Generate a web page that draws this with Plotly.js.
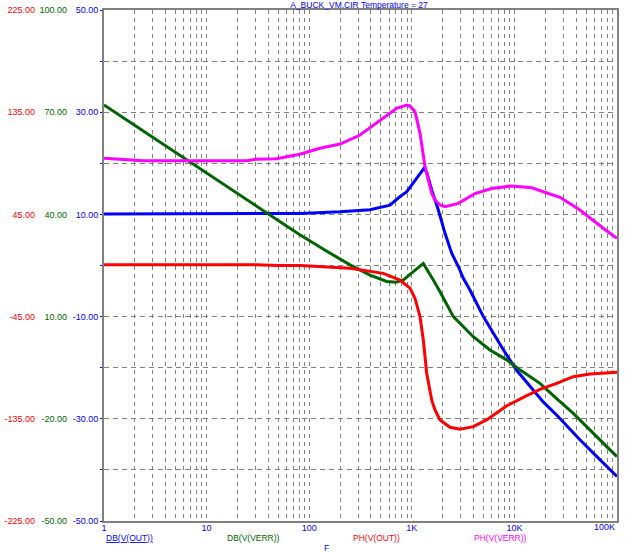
<!DOCTYPE html>
<html>
<head>
<meta charset="utf-8">
<script src="https://cdn.plot.ly/plotly-3.0.1.min.js"></script>
<style>html,body{margin:0;padding:0;background:#fff;}#chart{width:625px;height:556px;}</style>
</head>
<body>
<div id="chart"></div>
<script>
// ---- data ----
const titleText = 'A_BUCK_VM.CIR Temperature = 27';

const fOut = [1, 10, 30, 81, 200, 392, 613, 767, 890, 1114, 1315, 1400, 1563, 1811, 2108, 2449, 2840, 3177, 3690, 4980, 6225, 7800, 10520, 14200, 19100, 26800, 43500, 65800, 100000];
const dbOut = [10.1, 10.1, 10.1, 10.2, 10.5, 10.9, 11.8, 13.5, 14.4, 17.1, 19.0, 18.2, 14.8, 10.9, 6.3, 2.4, -0.2, -2.5, -4.8, -10.0, -13.3, -16.5, -20.5, -23.7, -26.7, -29.6, -34.1, -37.7, -41.3];

const fVerr = [1, 10, 40, 81, 150, 250, 392, 569, 700, 828, 1035, 1295, 1620, 1884, 2540, 3975, 5780, 8410, 11400, 17750, 26800, 37500, 82200, 100000];
const dbVerr = [72.1, 52.1, 40.1, 34.0, 29.1, 25.2, 22.2, 20.3, 20.1, 20.75, 23.2, 25.6, 20.75, 17.3, 10.0, 4.1, 0.2, -2.7, -5.7, -9.6, -14.5, -18.4, -28.6, -31.1];

const fPhOut = [1, 30, 50, 81, 250, 527, 767, 960, 1075, 1203, 1295, 1397, 1563, 1683, 1884, 2355, 2950, 3975, 5360, 8410, 13200, 17750, 25800, 37500, 54600, 79400, 100000];
const phOut = [0.7, 0.7, 0.0, 0.0, -2.5, -6.9, -12.8, -20.0, -29.0, -45.1, -65.6, -94.9, -118.4, -127.2, -136.0, -142.5, -144.2, -141.9, -136.0, -123.6, -114.6, -109.0, -103.8, -97.9, -95.5, -94.3, -94.0];

const fPhVerr = [1, 1.6, 2.4, 25, 30, 48, 60, 81, 127, 200, 313, 490, 711, 890, 960, 1075, 1203, 1346, 1563, 1683, 1884, 2108, 2840, 4130, 6010, 9410, 14750, 27800, 43500, 73500, 100000];
const phVerr = [94.4, 93.5, 92.3, 92.3, 93.5, 94.0, 95.5, 98.0, 103.2, 107.0, 114.9, 128.1, 138.4, 141.3, 140.5, 135.4, 116.4, 87.0, 63.6, 57.7, 53.3, 51.8, 54.7, 63.4, 67.8, 70.1, 68.4, 60.1, 48.9, 32.8, 24.0];

const seriesNames = ['DB(V(OUT))', 'DB(V(VERR))', 'PH(V(OUT))', 'PH(V(VERR))'];
const seriesColors = ['#0000ff', '#006400', '#ff0000', '#ff00ff'];

const xDecades = [1, 10, 100, 1000, 10000, 100000];
const xDecadeLabels = ['1', '10', '100', '1K', '10K', '100K'];

const blueTickVals = [-50, -40, -30, -20, -10, 0, 10, 20, 30, 40, 50];
const blueTickText = ['-50.00', '', '-30.00', '', '-10.00', '', '10.00', '', '30.00', '', '50.00'];
const greenTickVals = [-50, -20, 10, 40, 70, 100];
const greenTickText = ['-50.00', '-20.00', '10.00', '40.00', '70.00', '100.00'];
const redTickVals = [-225, -135, -45, 45, 135, 225];
const redTickText = ['-225.00', '-135.00', '-45.00', '45.00', '135.00', '225.00'];

// ---- build ----
const FONT = 'Liberation Sans, Arial, sans-serif';
const TICK_SIZE = 9, TEXT_SIZE = 8.5;
const W = 625, H = 556, ML = 0, MR = 8, MT = 10, MB = 35;
const PW = W - ML - MR, PH = H - MT - MB;
const plotLeft = 104;
const px = v => (v - ML) / PW;
const py = v => (H - MB - v) / PH;

// vertical grid at 1..9 x each decade (labels only on decades)
const xTickVals = [], xTickText = [];
xDecades.forEach((d, i) => {
  if (i < xDecades.length - 1) {
    for (let m = 1; m <= 9; m++) {
      xTickVals.push(d * m);
      xTickText.push(m === 1 ? xDecadeLabels[i] : '');
    }
  } else {
    xTickVals.push(d);
    xTickText.push('');
  }
});

const lw = 3;
const traces = [
  {x: fOut, y: dbOut, yaxis: 'y', mode: 'lines', line: {color: seriesColors[0], width: lw}, name: seriesNames[0]},
  {x: fVerr, y: dbVerr, yaxis: 'y2', mode: 'lines', line: {color: seriesColors[1], width: lw}, name: seriesNames[1]},
  {x: fPhOut, y: phOut, yaxis: 'y3', mode: 'lines', line: {color: seriesColors[2], width: lw}, name: seriesNames[2]},
  {x: fPhVerr, y: phVerr, yaxis: 'y3', mode: 'lines', line: {color: seriesColors[3], width: lw}, name: seriesNames[3]}
];

const gridColor = '#808080';
const annotations = [];
const legendX = [104, 225, 351, 472];
seriesNames.forEach((n, i) => {
  annotations.push({
    xref: 'paper', yref: 'paper', x: px(legendX[i]), y: py(538),
    xanchor: 'left', yanchor: 'middle', showarrow: false,
    text: i === 0 ? '<span style="text-decoration:underline">' + n + '</span>' : n,
    font: {family: FONT, size: TEXT_SIZE, color: seriesColors[i]}
  });
});
annotations.push({
  xref: 'paper', yref: 'paper', x: px(326), y: py(548), xanchor: 'center', yanchor: 'middle',
  showarrow: false, text: 'F', font: {family: FONT, size: TEXT_SIZE, color: '#0000ff'}
});
annotations.push({
  xref: 'x', yref: 'paper', x: Math.log10(xDecades[xDecades.length - 1]), y: py(527),
  xanchor: 'right', yanchor: 'middle', showarrow: false, text: xDecadeLabels[xDecadeLabels.length - 1],
  font: {family: FONT, size: TICK_SIZE, color: '#0000ff'}
});

const layout = {
  width: W, height: H,
  margin: {l: ML, r: MR, t: MT, b: MB, pad: 0},
  paper_bgcolor: '#ffffff', plot_bgcolor: '#ffffff',
  showlegend: false,
  font: {family: FONT, size: TICK_SIZE},
  title: {text: titleText, font: {family: FONT, size: TEXT_SIZE, color: '#0000ff'},
          xref: 'paper', x: px(359), xanchor: 'center', yref: 'container', y: 1 - 5 / H, yanchor: 'middle'},
  xaxis: {
    type: 'log', domain: [px(plotLeft), 1], range: [0, 5],
    tickmode: 'array', tickvals: xTickVals, ticktext: xTickText,
    showgrid: true, gridcolor: gridColor, griddash: '4px,4px', gridwidth: 1,
    showline: true, mirror: true, linecolor: gridColor, linewidth: 2,
    ticks: '', zeroline: false, ticklabelstandoff: -3,
    tickfont: {family: FONT, size: TICK_SIZE, color: '#0000ff'}
  },
  yaxis: {
    range: [-50, 50], tickmode: 'array', tickvals: blueTickVals, ticktext: blueTickText,
    showgrid: true, gridcolor: gridColor, griddash: '5px,4px', gridwidth: 1,
    showline: true, mirror: true, linecolor: gridColor, linewidth: 2,
    ticks: 'outside', ticklen: 2, tickcolor: '#0000ff', zeroline: false,
    tickfont: {family: FONT, size: TICK_SIZE, color: '#0000ff'}
  },
  yaxis2: {
    overlaying: 'y', anchor: 'free', side: 'left', position: px(67),
    range: [-50, 100], tickmode: 'array', tickvals: greenTickVals, ticktext: greenTickText,
    showgrid: false, zeroline: false, showline: false, ticks: '',
    tickfont: {family: FONT, size: TICK_SIZE, color: '#006400'}
  },
  yaxis3: {
    overlaying: 'y', anchor: 'free', side: 'left', position: px(35),
    range: [-225, 225], tickmode: 'array', tickvals: redTickVals, ticktext: redTickText,
    showgrid: false, zeroline: false, showline: false, ticks: '',
    tickfont: {family: FONT, size: TICK_SIZE, color: '#ff0000'}
  },
  annotations: annotations
};

Plotly.newPlot('chart', traces, layout, {displayModeBar: false, staticPlot: true});
</script>
</body>
</html>
